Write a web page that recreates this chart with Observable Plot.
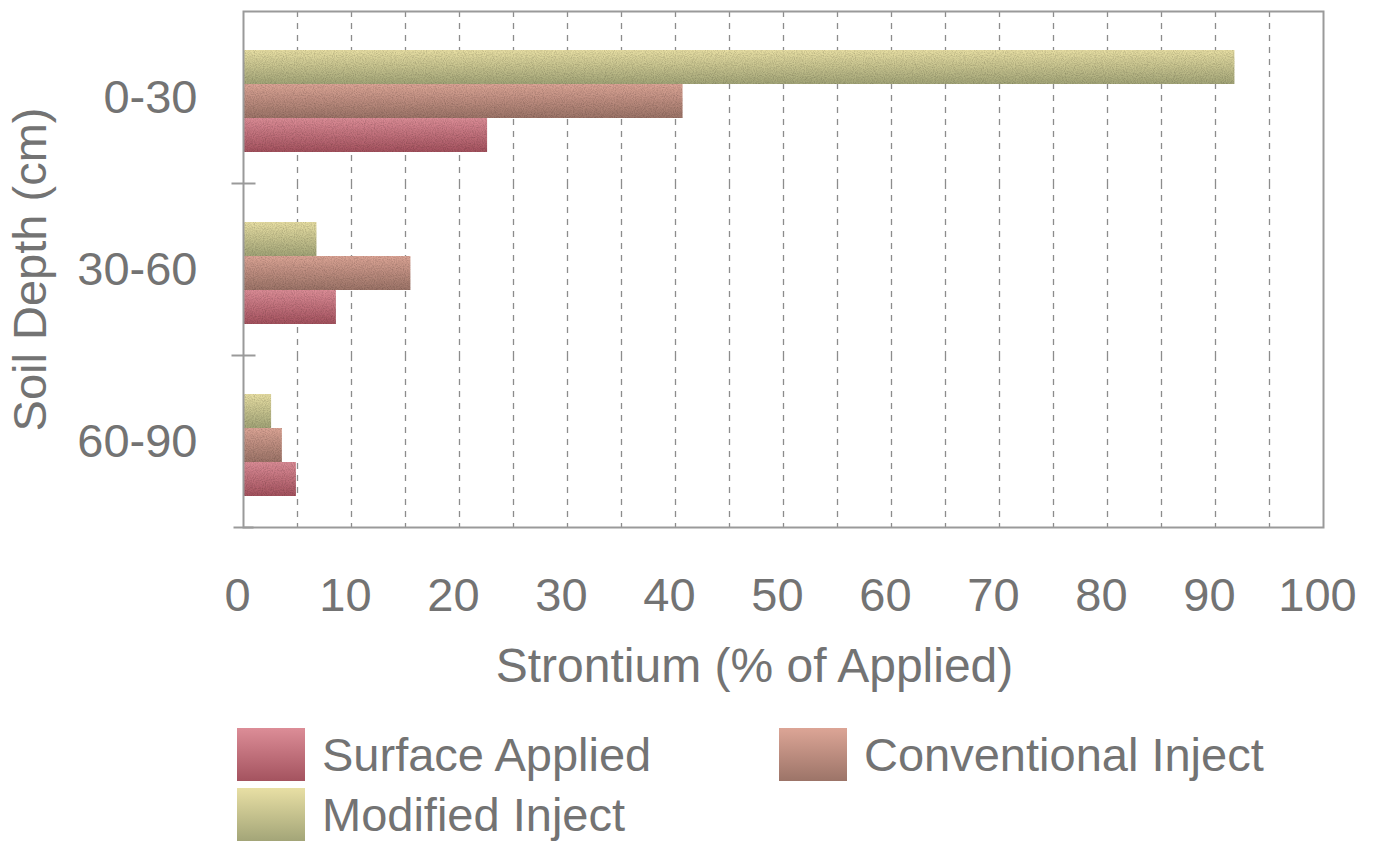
<!DOCTYPE html>
<html>
<head>
<meta charset="utf-8">
<script src="https://cdn.jsdelivr.net/npm/d3@7"></script>
<script src="https://cdn.jsdelivr.net/npm/@observablehq/plot@0.6"></script>
<style>
  html, body { margin: 0; padding: 0; background: #fff; }
  #chart { position: relative; width: 1374px; }
  .legend { position: relative; width: 1374px; height: 143px; font-family: "Liberation Sans", Arial, sans-serif; font-size: 47px; color: #737373; }
  .item { position: absolute; display: flex; align-items: center; }
  .sw { width: 68px; height: 53px; margin-right: 17px; }
</style>
</head>
<body>
<div id="chart"></div>
<div class="legend" id="legend"></div>
<script>
// ---- data ----
const depths = ["0-30", "30-60", "60-90"];
const series = ["Surface Applied", "Conventional Inject", "Modified Inject"];
const surfaceApplied = [22.6, 8.6, 4.9];
const conventionalInject = [40.7, 15.5, 3.6];
const modifiedInject = [91.8, 6.8, 2.6];
const xTicks = [0, 10, 20, 30, 40, 50, 60, 70, 80, 90, 100];
const gridTicks = [5, 10, 15, 20, 25, 30, 35, 40, 45, 50, 55, 60, 65, 70, 75, 80, 85, 90, 95];
const xLabel = "Strontium (% of Applied)";
const yLabel = "Soil Depth (cm)";

// gradient colours (top, bottom) per series
const gradients = {
  "Surface Applied": ["#dc8d97", "#a4535f"],
  "Conventional Inject": ["#dca596", "#9c7468"],
  "Modified Inject": ["#e8dfa4", "#a3a578"]
};
const gradIds = {"Surface Applied": "gSurf", "Conventional Inject": "gConv", "Modified Inject": "gMod"};

const rows = depths.flatMap((d, i) => [
  {depth: d, series: "Modified Inject", value: modifiedInject[i]},
  {depth: d, series: "Conventional Inject", value: conventionalInject[i]},
  {depth: d, series: "Surface Applied", value: surfaceApplied[i]}
]);

const hline = {
  draw(context, size) {
    const r = Math.sqrt(size / Math.PI);
    context.moveTo(-r, 0);
    context.lineTo(r, 0);
  }
};

const axisColor = "#9a9a9a";
const textColor = "#737373";

const svg = Plot.plot({
  width: 1374,
  height: 700,
  marginLeft: 243,
  marginRight: 51,
  marginTop: 10,
  marginBottom: 172,
  style: {fontFamily: "'Liberation Sans', Arial, sans-serif", fontSize: "47px", color: textColor, background: "#fff"},
  x: {domain: [0, 100], axis: null},
  y: {domain: ["Modified Inject", "Conventional Inject", "Surface Applied"], axis: null, paddingInner: 0, paddingOuter: 1, align: 0.55},
  fy: {domain: depths, padding: 0, axis: null},
  color: {domain: series, range: series.map(s => `url(#${gradIds[s]})`)},
  marks: [
    Plot.gridX({ticks: gridTicks, stroke: "#8c8c8c", strokeOpacity: 1, strokeWidth: 1.3, strokeDasharray: "6,6"}),
    Plot.barX(rows, {x: "value", y: "series", fy: "depth", fill: "series"}),
    Plot.frame({facet: "super", stroke: axisColor, strokeWidth: 2}),
    Plot.dot(["30-60", "60-90"], {fy: d => d, frameAnchor: "top-left", symbol: hline, r: 12, stroke: axisColor, strokeWidth: 2, fill: "none"}),
    Plot.dot(["60-90"], {fy: d => d, frameAnchor: "bottom-left", symbol: hline, r: 10, stroke: axisColor, strokeWidth: 2, fill: "none"}),
    Plot.axisFy({anchor: "left", tickSize: 0, tickPadding: 46, fontSize: 47, label: yLabel, labelAnchor: "center", labelOffset: 231}),
    Plot.axisX({anchor: "bottom", ticks: xTicks, tickSize: 0, tickPadding: 50, dx: -6, fontSize: 47, label: null}),
    Plot.text([xLabel], {text: d => d, facet: "super", frameAnchor: "bottom", lineAnchor: "bottom", dy: 154, dx: -29, fontSize: 48, fill: textColor})
  ]
});

// gradient + texture defs
const defs = d3.select(svg).insert("defs", ":first-child");
for (const s of series) {
  const g = defs.append("linearGradient").attr("id", gradIds[s]).attr("x1", 0).attr("y1", 0).attr("x2", 0).attr("y2", 1);
  g.append("stop").attr("offset", "0%").attr("stop-color", gradients[s][0]);
  g.append("stop").attr("offset", "100%").attr("stop-color", gradients[s][1]);
}
const f = defs.append("filter").attr("id", "grain").attr("x", 0).attr("y", 0).attr("width", "100%").attr("height", "100%");
f.append("feTurbulence").attr("type", "fractalNoise").attr("baseFrequency", 0.9).attr("numOctaves", 2).attr("seed", 3).attr("result", "n");
f.append("feColorMatrix").attr("in", "n").attr("type", "matrix")
  .attr("values", "0 0 0 0 0  0 0 0 0 0  0 0 0 0 0  0.7 0 0 0 -0.25").attr("result", "na");
f.append("feComposite").attr("in", "na").attr("in2", "SourceGraphic").attr("operator", "in").attr("result", "nm");
const fm = f.append("feMerge");
fm.append("feMergeNode").attr("in", "SourceGraphic");
fm.append("feMergeNode").attr("in", "nm");
d3.select(svg).selectAll("g[aria-label='bar'] rect").attr("filter", "url(#grain)");

document.getElementById("chart").appendChild(svg);

// legend
const legendPos = [
  {s: "Surface Applied", left: 237, top: 27},
  {s: "Conventional Inject", left: 779, top: 27},
  {s: "Modified Inject", left: 237, top: 87}
];
const legend = document.getElementById("legend");
for (const p of legendPos) {
  const it = document.createElement("div");
  it.className = "item";
  it.style.left = p.left + "px";
  it.style.top = p.top + "px";
  const sw = document.createElement("div");
  sw.className = "sw";
  sw.style.background = `linear-gradient(${gradients[p.s][0]}, ${gradients[p.s][1]})`;
  const tx = document.createElement("span");
  tx.textContent = p.s;
  it.appendChild(sw);
  it.appendChild(tx);
  legend.appendChild(it);
}
</script>
</body>
</html>
